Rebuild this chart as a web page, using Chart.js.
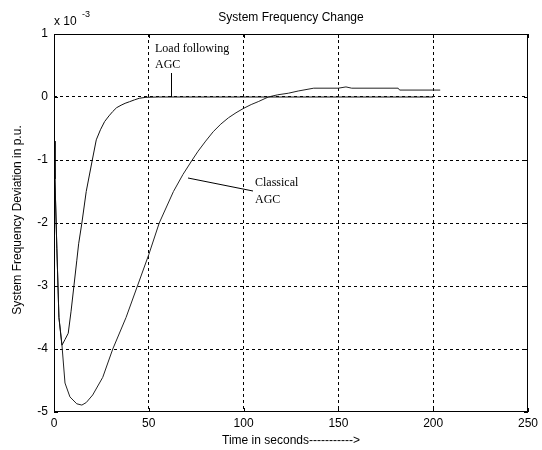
<!DOCTYPE html>
<html>
<head>
<meta charset="utf-8">
<script src="https://cdn.jsdelivr.net/npm/chart.js@4"></script>
<style>
  html, body { margin: 0; padding: 0; background: #fff; }
  #wrap { width: 542px; height: 450px; }
</style>
</head>
<body>
<div id="wrap"><canvas id="freqChart" width="542" height="450"></canvas></div>
<script>
// deviation values are in units of 1e-3 p.u.
var timeLoadFollowing = [0, 0.5, 1.5, 2.6, 4.2, 5.8, 7.5, 9, 10.5, 12, 13, 14.7, 17, 20.2, 22.3, 24.5, 26.7, 29, 31, 33, 35.4, 37.5, 39.8, 42.5, 45, 48.5, 55, 100, 150, 200];
var devLoadFollowing  = [-0.7, -1.3, -2.4, -3.5, -3.94, -3.85, -3.75, -3.4, -3.0, -2.6, -2.33, -2.0, -1.5, -1.0, -0.68, -0.52, -0.39, -0.3, -0.23, -0.17, -0.13, -0.1, -0.075, -0.045, -0.02, -0.005, 0, 0, 0, 0];

var timeClassical = [0, 0.5, 1.5, 2.6, 4.2, 5.8, 8.4, 12, 14.7, 17, 20.4, 25.7, 31, 38, 44, 50, 55.5, 63, 68, 72.9, 76, 80, 84, 88, 92, 96, 100, 104, 108, 113, 118, 123.6, 128.8, 137, 150, 154, 157, 181.5, 182.3, 203.7];
var devClassical  = [-0.7, -1.3, -2.4, -3.5, -3.94, -4.54, -4.76, -4.87, -4.89, -4.85, -4.73, -4.45, -4.0, -3.5, -3.0, -2.5, -2.0, -1.5, -1.23, -1.0, -0.86, -0.7, -0.55, -0.43, -0.33, -0.25, -0.18, -0.12, -0.07, 0, 0.035, 0.06, 0.095, 0.14, 0.14, 0.16, 0.14, 0.14, 0.11, 0.11];

var xTicks = [0, 50, 100, 150, 200, 250];
var yTicks = [1, 0, -1, -2, -3, -4, -5];

function toPoints(xs, ys) {
  var pts = [];
  for (var i = 0; i < xs.length; i++) pts.push({x: xs[i], y: ys[i]});
  return pts;
}

var sansFont = '"Liberation Sans", Arial, sans-serif';
var serifFont = '"Liberation Serif", "Times New Roman", serif';

// box, inward ticks and all the text around the axes
var decorations = {
  id: 'decorations',
  afterDraw: function(chart) {
    var ctx = chart.ctx;
    var a = chart.chartArea;
    var xs = chart.scales.x, ys = chart.scales.y;
    ctx.save();
    ctx.strokeStyle = '#000';
    ctx.lineWidth = 1;
    ctx.setLineDash([]);
    ctx.strokeRect(a.left + 0.5, a.top + 0.5, a.right - a.left - 1, a.bottom - a.top - 1);

    ctx.beginPath();
    xTicks.forEach(function(v) {
      var px = Math.round(xs.getPixelForValue(v)) + 0.5;
      ctx.moveTo(px, a.bottom); ctx.lineTo(px, a.bottom - 4);
      ctx.moveTo(px, a.top); ctx.lineTo(px, a.top + 4);
    });
    yTicks.forEach(function(v) {
      var py = Math.round(ys.getPixelForValue(v)) + 0.5;
      ctx.moveTo(a.left, py); ctx.lineTo(a.left + 4, py);
      ctx.moveTo(a.right, py); ctx.lineTo(a.right - 4, py);
    });
    ctx.stroke();

    ctx.fillStyle = '#000';
    ctx.font = '12px ' + sansFont;
    ctx.textAlign = 'center';
    ctx.textBaseline = 'middle';
    ctx.fillText('System Frequency Change', (a.left + a.right) / 2, 18);
    ctx.fillText('Time in seconds----------->', (a.left + a.right) / 2, 441);

    ctx.save();
    ctx.translate(18, 220);
    ctx.rotate(-Math.PI / 2);
    ctx.fillText('System Frequency Deviation in p.u.', 0, 0);
    ctx.restore();

    ctx.textAlign = 'left';
    ctx.fillText('x 10', 54, 22);
    ctx.font = '9px ' + sansFont;
    ctx.fillText('-3', 82, 15);

    // curve annotations
    ctx.font = '12px ' + serifFont;
    ctx.fillText('Load following', 155, 49);
    ctx.fillText('AGC', 155, 65);
    ctx.fillText('Classical', 255, 183);
    ctx.fillText('AGC', 255, 200);

    ctx.beginPath();
    ctx.moveTo(171.5, 73); ctx.lineTo(171.5, 97);
    ctx.moveTo(188, 178); ctx.lineTo(253, 191);
    ctx.stroke();
    ctx.restore();
  }
};

function gridColor(ctx) {
  var v = ctx.tick ? ctx.tick.value : null;
  var s = ctx.scale;
  if (v === s.min || v === s.max) return 'rgba(0,0,0,0)';
  return '#000';
}

var chart = new Chart(document.getElementById('freqChart'), {
  type: 'line',
  data: {
    datasets: [
      {
        label: 'Load following AGC',
        data: toPoints(timeLoadFollowing, devLoadFollowing),
        borderColor: '#111',
        borderWidth: 1,
        pointRadius: 0,
        tension: 0,
        fill: false
      },
      {
        label: 'Classical AGC',
        data: toPoints(timeClassical, devClassical),
        borderColor: '#222',
        borderWidth: 1,
        pointRadius: 0,
        tension: 0,
        fill: false
      }
    ]
  },
  options: {
    responsive: false,
    animation: false,
    events: [],
    layout: { padding: { top: 34, right: 11, left: 0, bottom: 0 } },
    plugins: {
      legend: { display: false },
      tooltip: { enabled: false },
      title: { display: false }
    },
    scales: {
      x: {
        type: 'linear',
        min: 0,
        max: 250,
        afterFit: function(s) { s.height = 38; },
        afterBuildTicks: function(s) { s.ticks = xTicks.map(function(v) { return {value: v}; }); },
        ticks: { color: '#000', font: { family: sansFont, size: 12 }, padding: 4, maxRotation: 0 },
        grid: { color: gridColor, lineWidth: 1, drawTicks: false },
        border: { display: false, dash: [3, 3] }
      },
      y: {
        type: 'linear',
        min: -5,
        max: 1,
        afterFit: function(s) { s.width = 54; },
        afterBuildTicks: function(s) { s.ticks = yTicks.map(function(v) { return {value: v}; }); },
        ticks: { color: '#000', font: { family: sansFont, size: 12 }, padding: 6 },
        grid: { color: gridColor, lineWidth: 1, drawTicks: false },
        border: { display: false, dash: [3, 3] }
      }
    }
  },
  plugins: [decorations]
});
</script>
</body>
</html>
